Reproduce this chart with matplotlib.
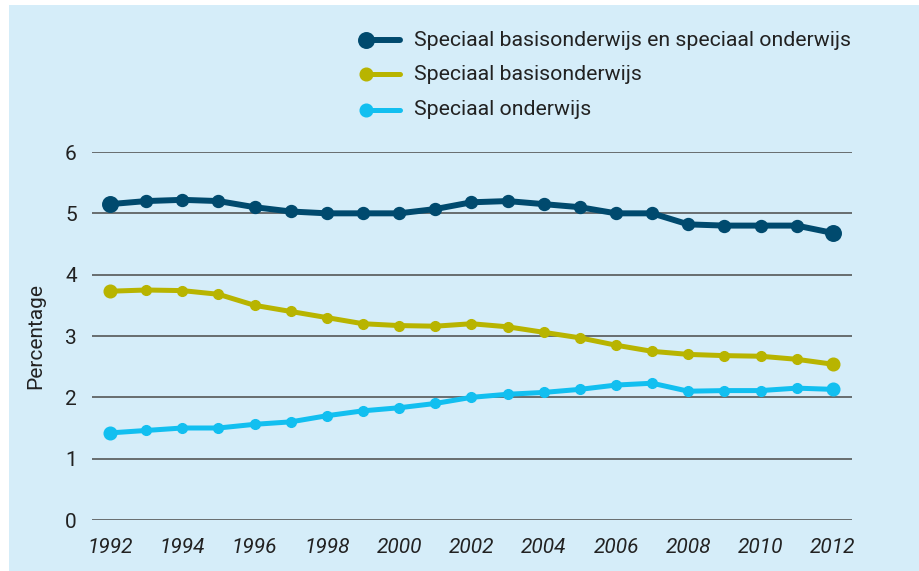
import matplotlib
matplotlib.use("Agg")
import matplotlib.pyplot as plt
from matplotlib.lines import Line2D
from matplotlib.patches import Rectangle

years = list(range(1992, 2013))
totaal = [5.15, 5.20, 5.22, 5.20, 5.10, 5.03, 5.00, 5.00, 5.00, 5.07, 5.18,
          5.20, 5.15, 5.10, 5.00, 5.00, 4.82, 4.80, 4.80, 4.80, 4.68]
sbo = [3.73, 3.75, 3.74, 3.68, 3.50, 3.40, 3.30, 3.20, 3.17, 3.16, 3.20,
       3.15, 3.06, 2.97, 2.85, 2.75, 2.70, 2.68, 2.67, 2.62, 2.54]
so = [1.42, 1.46, 1.50, 1.50, 1.56, 1.60, 1.70, 1.78, 1.83, 1.90, 2.00,
      2.05, 2.08, 2.13, 2.20, 2.23, 2.10, 2.11, 2.11, 2.15, 2.13]
labels = ["Speciaal basisonderwijs en speciaal onderwijs",
          "Speciaal basisonderwijs", "Speciaal onderwijs"]

plt.rcParams['font.family'] = ['Roboto', 'DejaVu Sans']
bg = "#d5edf9"
colors = ["#004a6e", "#b8b400", "#12bff0"]

fig = plt.figure(figsize=(9.19, 5.71), dpi=100)
fig.patches.append(Rectangle((9 / 919, 0), 1, 566 / 571, transform=fig.transFigure,
                             facecolor=bg, edgecolor="none", zorder=-5))
ax = fig.add_axes([92 / 919, 1 - 520 / 571, 760 / 919, 368 / 571])
ax.set_facecolor("none")
ax.set_zorder(2)

series = [totaal, sbo, so]
widths = [4.3, 3.6, 3.6]
msizes = [8.6, 7.0, 7.0]
for vals, c, lw, ms in zip(series, colors, widths, msizes):
    ax.plot(years, vals, color=c, lw=lw, marker="o", ms=ms, zorder=3,
            solid_capstyle="round", clip_on=False)
    ax.plot([years[0], years[-1]], [vals[0], vals[-1]], ls="none", marker="o",
            ms=ms * 1.3, color=c, zorder=4, clip_on=False)

ax.set_xlim(1991.5, 2012.53)
ax.set_ylim(0, 6)
ax.set_yticks(range(0, 7))
ax.set_xticks(range(1992, 2013, 2))
ax.grid(axis="y", color="#4a4a4a", lw=1.1)
ax.set_axisbelow(True)
for s in ax.spines.values():
    s.set_visible(False)
ax.tick_params(length=0, labelsize=15, colors="#222222")
ax.tick_params(axis="y", pad=11)
ax.tick_params(axis="x", pad=13)
for t in ax.get_xticklabels():
    t.set_fontstyle("italic")
ax.set_ylabel("Percentage", fontsize=15, color="#222222", labelpad=14)

# legend drawn by hand
rows = [40, 74, 110]
for y, c, lw, ms, lab in zip(rows, colors, widths, msizes, labels):
    yf = 1 - y / 571
    fig.add_artist(Line2D([366 / 919, 400 / 919], [yf, yf], color=c, lw=lw,
                          solid_capstyle="round"))
    fig.add_artist(Line2D([366 / 919], [yf], marker="o", ms=ms * 1.3, color=c))
    fig.text(414 / 919, yf, lab, fontsize=15.3, color="#222222", va="center")

fig.savefig("out.png", dpi=100)
